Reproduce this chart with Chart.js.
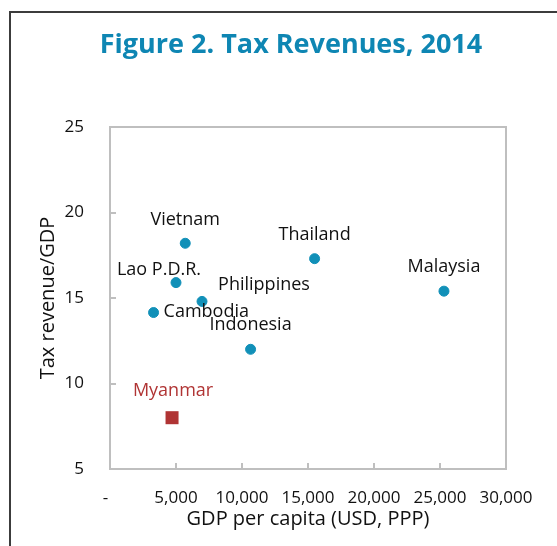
<!DOCTYPE html>
<html>
<head>
<meta charset="utf-8">
<script src="https://cdn.jsdelivr.net/npm/chart.js@4/dist/chart.umd.min.js"></script>
<style>
  html, body { margin: 0; padding: 0; background: #fff; }
  #wrap { position: relative; width: 557px; height: 546px; overflow: hidden; }
  #frame { position: absolute; left: 9px; top: 11px; width: 600px; height: 600px;
           border-left: 2px solid #3c3c3c; border-top: 2px solid #3c3c3c; }
  canvas { position: absolute; left: 0; top: 0; }
</style>
</head>
<body>
<div id="wrap">
  <div id="frame"></div>
  <canvas id="chart" width="557" height="546"></canvas>
</div>
<script>
// Dados (PIB per capita em USD PPP, receita fiscal em % do PIB)
const countries = ['Vietnam', 'Thailand', 'Lao P.D.R.', 'Philippines', 'Cambodia', 'Indonesia', 'Malaysia'];
const gdpPerCapita = [5700, 15500, 5000, 6970, 3300, 10650, 25300];
const taxRevenue = [18.2, 17.3, 15.9, 14.8, 14.15, 12.0, 15.4];

const myanmarLabel = 'Myanmar';
const myanmarGdp = 4700;
const myanmarTax = 8.0;

const xTicks = [0, 5000, 10000, 15000, 20000, 25000, 30000];
const yTicks = [5, 10, 15, 20, 25];

// posição dos rótulos em relação ao ponto (dx, dy, alinhamento)
const labelPos = {
  'Vietnam': [0, -23, 'center'],
  'Thailand': [0, -24, 'center'],
  'Lao P.D.R.': [-17, -13, 'center'],
  'Philippines': [62, -17, 'center'],
  'Cambodia': [10, -1, 'left'],
  'Indonesia': [0, -24, 'center'],
  'Malaysia': [0, -24, 'center'],
  'Myanmar': [1, -27, 'center']
};

const FONT = "'Open Sans', 'Noto Sans', sans-serif";
const BLUE = '#1190b8';
const RED = '#b03434';
const AXIS = '#bfbfbf';

const fmtX = v => v === 0 ? '-  ' : v.toLocaleString('en-US');

const framePlugin = {
  id: 'frame',
  afterDraw(chart) {
    const { ctx, chartArea: a, scales: { x, y } } = chart;
    ctx.save();
    // título
    ctx.fillStyle = '#0e86b3';
    ctx.font = "bold 27px " + FONT;
    ctx.textAlign = 'center';
    ctx.textBaseline = 'middle';
    ctx.fillText('Figure 2. Tax Revenues, 2014', 291, 45);

    // moldura da área do gráfico
    ctx.strokeStyle = AXIS;
    ctx.lineWidth = 2;
    ctx.strokeRect(a.left, a.top, a.right - a.left, a.bottom - a.top);
    ctx.beginPath();
    xTicks.slice(1, -1).forEach(v => {
      const px = Math.round(x.getPixelForValue(v));
      ctx.moveTo(px, a.bottom); ctx.lineTo(px, a.bottom - 6);
    });
    yTicks.slice(1, -1).forEach(v => {
      const py = Math.round(y.getPixelForValue(v));
      ctx.moveTo(a.left, py); ctx.lineTo(a.left + 6, py);
    });
    ctx.stroke();

    // rótulos dos pontos
    ctx.font = "18px " + FONT;
    ctx.textBaseline = 'middle';
    chart.data.datasets.forEach((ds, i) => {
      const meta = chart.getDatasetMeta(i);
      meta.data.forEach((pt, j) => {
        const name = ds.names[j];
        const [dx, dy, al] = labelPos[name];
        ctx.fillStyle = ds.labelColor;
        ctx.textAlign = al;
        ctx.fillText(name, pt.x + dx, pt.y + dy);
      });
    });
    ctx.restore();
  }
};

new Chart(document.getElementById('chart'), {
  type: 'scatter',
  data: {
    datasets: [
      {
        data: gdpPerCapita.map((g, i) => ({ x: g, y: taxRevenue[i] })),
        names: countries,
        labelColor: '#111',
        backgroundColor: BLUE, borderColor: BLUE,
        pointRadius: 5, pointHoverRadius: 5, pointStyle: 'circle'
      },
      {
        data: [{ x: myanmarGdp, y: myanmarTax }],
        names: [myanmarLabel],
        labelColor: RED,
        backgroundColor: RED, borderColor: RED, borderWidth: 0,
        pointRadius: 9.2, pointHoverRadius: 9.2, pointStyle: 'rect'
      }
    ]
  },
  options: {
    responsive: false,
    animation: false,
    events: [],
    layout: { padding: { top: 127, right: 51, left: 0, bottom: 0 } },
    plugins: { legend: { display: false }, tooltip: { enabled: false } },
    scales: {
      x: {
        type: 'linear', min: 0, max: 30000,
        afterFit: s => { s.height = 77; },
        afterBuildTicks: s => { s.ticks = xTicks.map(v => ({ value: v })); },
        grid: { display: false },
        border: { display: false },
        ticks: { color: '#111', font: { family: FONT, size: 17 }, padding: 11, callback: fmtX },
        title: { display: true, text: 'GDP per capita (USD, PPP)', color: '#111',
                 font: { family: FONT, size: 20 }, padding: { top: 0, bottom: 15 } }
      },
      y: {
        type: 'linear', min: 5, max: 25,
        afterFit: s => { s.width = 110; },
        afterBuildTicks: s => { s.ticks = yTicks.map(v => ({ value: v })); },
        grid: { display: false },
        border: { display: false },
        ticks: { color: '#111', font: { family: FONT, size: 17 }, padding: 18 },
        title: { display: true, text: 'Tax revenue/GDP', color: '#111',
                 font: { family: FONT, size: 20 }, padding: { top: 36, bottom: 0 } }
      }
    }
  },
  plugins: [framePlugin]
});
</script>
</body>
</html>
